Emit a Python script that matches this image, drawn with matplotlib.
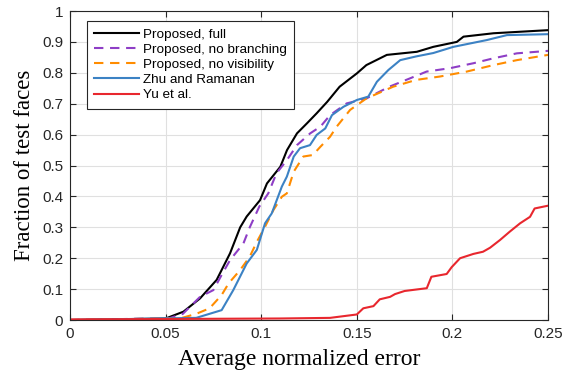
import matplotlib
matplotlib.use("Agg")
import matplotlib.pyplot as plt

# curves (x = normalized error, y = fraction of faces)
x_full = [0, 0.05, 0.0593, 0.068, 0.0767, 0.0837, 0.089, 0.0924, 0.0994, 0.103,
          0.110, 0.1135, 0.1187, 0.124, 0.129, 0.1345, 0.141, 0.150, 0.155,
          0.1657, 0.1814, 0.190, 0.2023, 0.2058, 0.2215, 0.25]
y_full = [0, 0.005, 0.027, 0.07, 0.13, 0.216, 0.30, 0.335, 0.388, 0.442,
          0.496, 0.55, 0.604, 0.637, 0.669, 0.706, 0.755, 0.798, 0.825,
          0.858, 0.868, 0.884, 0.90, 0.917, 0.928, 0.938]

x_nobranch = [0, 0.052, 0.059, 0.068, 0.075, 0.0793, 0.0837, 0.0907, 0.094, 0.099,
              0.1037, 0.108, 0.1135, 0.1187, 0.1256, 0.131, 0.136, 0.1447, 0.155,
              0.167, 0.1778, 0.1865, 0.1988, 0.211, 0.2215, 0.2337, 0.25]
y_nobranch = [0, 0.006, 0.02, 0.075, 0.097, 0.146, 0.194, 0.248, 0.30, 0.367,
              0.41, 0.475, 0.518, 0.566, 0.604, 0.626, 0.663, 0.701, 0.717,
              0.755, 0.782, 0.804, 0.815, 0.831, 0.847, 0.863, 0.871]

x_novis = [0, 0.058, 0.066, 0.073, 0.0793, 0.083, 0.089, 0.094, 0.0977, 0.102,
           0.1064, 0.1108, 0.1134, 0.117, 0.122, 0.127, 0.131, 0.136, 0.1395,
           0.1465, 0.155, 0.169, 0.181, 0.1935, 0.2075, 0.2215, 0.2337, 0.25]
y_novis = [0, 0.006, 0.02, 0.038, 0.081, 0.119, 0.162, 0.205, 0.253, 0.302,
           0.356, 0.399, 0.41, 0.48, 0.529, 0.534, 0.561, 0.593, 0.626,
           0.68, 0.717, 0.755, 0.777, 0.788, 0.804, 0.825, 0.841, 0.858]

x_zhu = [0, 0.066, 0.0793, 0.0854, 0.0924, 0.0977, 0.102, 0.1055, 0.1108, 0.1134,
         0.117, 0.1203, 0.1255, 0.129, 0.1335, 0.137, 0.143, 0.150, 0.156,
         0.1605, 0.1665, 0.1727, 0.181, 0.190, 0.2005, 0.218, 0.2285, 0.25]
y_zhu = [0, 0.007, 0.032, 0.097, 0.183, 0.227, 0.313, 0.345, 0.432, 0.464,
         0.529, 0.556, 0.566, 0.599, 0.62, 0.663, 0.69, 0.712, 0.723,
         0.771, 0.809, 0.841, 0.853, 0.864, 0.884, 0.906, 0.922, 0.925]

x_yu = [0, 0.1098, 0.136, 0.150, 0.1534, 0.1587, 0.162, 0.1674, 0.170, 0.175,
        0.1866, 0.189, 0.197, 0.1996, 0.204, 0.211, 0.216, 0.2197, 0.2249,
        0.230, 0.2354, 0.2406, 0.243, 0.25]
y_yu = [0.002, 0.005, 0.007, 0.018, 0.038, 0.045, 0.067, 0.075, 0.084, 0.094,
        0.103, 0.14, 0.149, 0.171, 0.20, 0.214, 0.221, 0.234, 0.259,
        0.286, 0.313, 0.334, 0.361, 0.37]

labels = ["Proposed, full", "Proposed, no branching", "Proposed, no visibility",
          "Zhu and Ramanan", "Yu et al."]

fig = plt.figure(figsize=(5.62, 3.73), dpi=100)
ax = fig.add_axes([0.1246, 0.142, 0.8505, 0.8285])

lw = 1.5
ax.plot(x_full, y_full, color="black", lw=lw, label=labels[0])
ax.plot(x_nobranch, y_nobranch, color="#8E3EC6", lw=lw, ls=(0, (4.5, 3.2)), label=labels[1])
ax.plot(x_novis, y_novis, color="#FF8C00", lw=lw, ls=(0, (4.5, 3.2)), label=labels[2])
ax.plot(x_zhu, y_zhu, color="#3C82C4", lw=lw, label=labels[3])
ax.plot(x_yu, y_yu, color="#E8272E", lw=lw, label=labels[4])

ax.set_xlim(0, 0.25)
ax.set_ylim(0, 1)
ax.set_xticks([0, 0.05, 0.1, 0.15, 0.2, 0.25])
ax.set_xticklabels(["0", "0.05", "0.1", "0.15", "0.2", "0.25"])
ax.set_yticks([i / 10 for i in range(11)])
ax.set_yticklabels(["0"] + ["0.%d" % i for i in range(1, 10)] + ["1"])
ax.tick_params(direction="in", top=True, right=True, length=4, width=0.8,
               labelsize=11, colors="#262626", pad=5)
for lab in ax.get_xticklabels() + ax.get_yticklabels():
    lab.set_fontfamily("Liberation Sans")
ax.grid(True, color="#e0e0e0", lw=0.8)
ax.set_axisbelow(True)
for sp in ax.spines.values():
    sp.set_color("#262626")
    sp.set_linewidth(0.8)

ax.set_xlabel("Average normalized error", family="Liberation Serif", fontsize=17)
ax.xaxis.set_label_coords(0.479, -0.095, transform=ax.transAxes)
ax.set_ylabel("Fraction of test faces", family="Liberation Serif", fontsize=16.5, labelpad=5)

leg = ax.legend(loc="upper left", bbox_to_anchor=(0.0356, 0.968), fancybox=False,
                edgecolor="#262626", framealpha=1, handlelength=3.3, handletextpad=0.3,
                borderpad=0.55, labelspacing=0.2, borderaxespad=0,
                prop={"family": "Liberation Sans", "size": 9.7})
leg.get_frame().set_linewidth(0.8)

fig.savefig("out.png", dpi=100)
